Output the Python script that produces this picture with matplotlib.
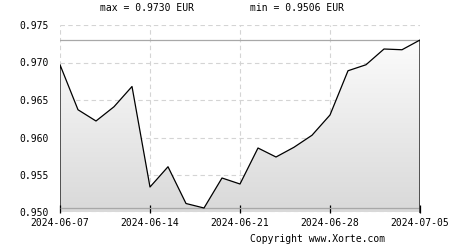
import matplotlib.pyplot as plt
import numpy as np
from matplotlib.patches import Polygon

# trading days, one point per business day
rates = [0.9697, 0.9637, 0.9622, 0.9641, 0.9668, 0.9534, 0.9561, 0.9512, 0.9506,
         0.9546, 0.9538, 0.9586, 0.9574, 0.9587, 0.9603, 0.9630, 0.9689, 0.9697,
         0.9718, 0.9717, 0.9730]
tick_idx = [0, 5, 10, 15, 20]
tick_labels = ['2024-06-07', '2024-06-14', '2024-06-21', '2024-06-28', '2024-07-05']
y_ticks = [0.950, 0.955, 0.960, 0.965, 0.970, 0.975]
vmax = 0.9730
vmin = 0.9506

plt.rcParams['font.family'] = 'DejaVu Sans Mono'
plt.rcParams['font.size'] = 7

fig = plt.figure(figsize=(4.5, 2.5), dpi=100)
ax = fig.add_axes([60 / 450, 1 - 212.5 / 250, 360 / 450, 187.5 / 250])

x = np.arange(len(rates))
y0, y1 = 0.950, 0.975
ax.set_xlim(0, len(rates) - 1)
ax.set_ylim(y0, y1)

# grid
for v in y_ticks:
    ax.axhline(v, color='#d4d4d4', lw=0.8, ls=(0, (4, 3)), zorder=0)
for i in tick_idx:
    ax.axvline(i, color='#d4d4d4', lw=0.8, ls=(0, (4, 3)), zorder=0)

# gradient fill under the line
verts = [(0, y0)] + list(zip(x, rates)) + [(x[-1], y0)]
poly = Polygon(verts, closed=True, facecolor='none', edgecolor='none')
ax.add_patch(poly)
grad = np.linspace(0, 1, 256).reshape(-1, 1)
img = ax.imshow(grad, extent=[0, x[-1], y0, y1], origin='upper', aspect='auto',
                cmap=plt.matplotlib.colors.LinearSegmentedColormap.from_list(
                    'g', ['#ffffff', '#d9d9d9']), zorder=1)
img.set_clip_path(poly)

# max / min lines
ax.axhline(vmax, color='#a8a8a8', lw=0.9, zorder=2)
ax.axhline(vmin, color='#a8a8a8', lw=0.9, zorder=2)

ax.plot([0] + list(x) + [x[-1]], [y0] + rates + [y0], color='black', lw=0.9, zorder=3)

for s in ax.spines.values():
    s.set_visible(False)
ax.set_xticks(tick_idx)
ax.set_xticklabels(tick_labels)
ax.set_yticks(y_ticks)
ax.set_yticklabels(['%.3f' % v for v in y_ticks])
ax.tick_params(axis='x', direction='in', length=6, width=0.9, color='black', pad=4)
ax.tick_params(axis='y', length=0, pad=8)

fig.text(147.5 / 450, 1 - 8 / 250, 'max = %.4f EUR' % vmax, ha='center', va='center')
fig.text(297.5 / 450, 1 - 8 / 250, 'min = %.4f EUR' % vmin, ha='center', va='center')
fig.text(318 / 450, 1 - 239 / 250, 'Copyright www.Xorte.com', ha='center', va='center')

fig.savefig('out.png', dpi=100)
